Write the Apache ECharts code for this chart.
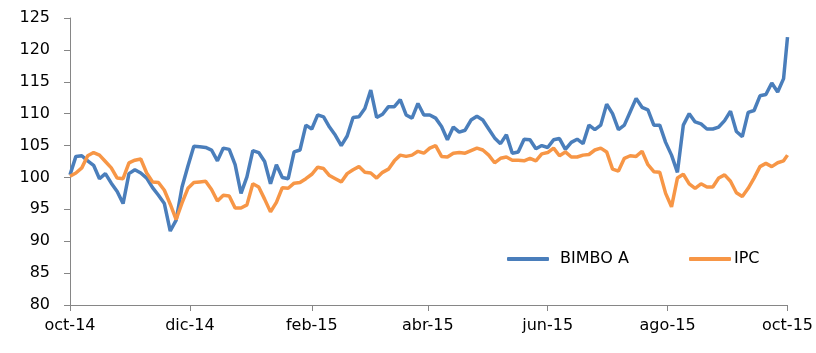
<!DOCTYPE html>
<html>
<head>
<meta charset="utf-8">
<script src="https://cdn.jsdelivr.net/npm/echarts@6/dist/echarts.min.js"></script>
<style>
  html, body { margin: 0; padding: 0; background: #fff; }
  #main { width: 816px; height: 353px; }
</style>
</head>
<body>
<div id="main"></div>
<script>
// valores cada 3 días naturales desde 1-oct-2014
var stepDays = 3;
var bimbo = [
  100.4, 103.3, 103.4, 102.6, 101.9, 99.8, 100.6, 99.1, 97.8, 95.9,
  100.6, 101.2, 100.7, 99.9, 98.4, 97.2, 95.9, 91.6, 93.3, 98.5,
  101.8, 104.9, 104.8, 104.7, 104.3, 102.6, 104.6, 104.4, 102.0, 97.5,
  100.1, 104.2, 103.9, 102.5, 99.0, 102.0, 100.0, 99.8, 104.0, 104.3,
  108.2, 107.6, 109.8, 109.5, 107.9, 106.6, 105.0, 106.5, 109.4, 109.5,
  110.8, 113.7, 109.4, 109.9, 111.1, 111.1, 112.2, 109.8, 109.3, 111.6,
  109.8, 109.8, 109.3, 108.0, 105.9, 107.9, 107.1, 107.4, 109.0, 109.6,
  109.0, 107.6, 106.2, 105.3, 106.7, 103.8, 104.0, 106.0, 105.9, 104.5,
  105.0, 104.7, 105.9, 106.1, 104.4, 105.5, 106.0, 105.3, 108.2, 107.5,
  108.2, 111.5, 110.0, 107.5, 108.2, 110.3, 112.4, 111.0, 110.6, 108.2,
  108.2, 105.5, 103.5, 100.8, 108.2, 110.0, 108.7, 108.4, 107.6, 107.6,
  107.9, 108.9, 110.4, 107.2, 106.4, 110.2, 110.5, 112.8, 113.0, 114.8,
  113.4, 115.5, 122.0
];
var ipc = [
  100.2, 100.7, 101.5, 103.4, 103.9, 103.5, 102.5, 101.5, 99.9, 99.8,
  102.3, 102.7, 102.9, 100.7, 99.3, 99.2, 98.0, 95.8, 93.4, 96.0,
  98.3, 99.2, 99.3, 99.4, 98.1, 96.3, 97.2, 97.1, 95.2, 95.2,
  95.7, 99.0, 98.5, 96.6, 94.6, 96.1, 98.4, 98.3, 99.1, 99.2,
  99.8, 100.5, 101.6, 101.4, 100.3, 99.8, 99.3, 100.6, 101.2, 101.7,
  100.8, 100.7, 99.9, 100.8, 101.3, 102.6, 103.5, 103.3, 103.5, 104.1,
  103.8, 104.6, 105.0, 103.3, 103.2, 103.8, 103.9, 103.8, 104.2, 104.6,
  104.3, 103.5, 102.3, 103.0, 103.2, 102.7, 102.7, 102.6, 103.0, 102.6,
  103.7, 103.9, 104.6, 103.4, 104.0, 103.2, 103.2, 103.5, 103.6, 104.3,
  104.6, 104.0, 101.3, 101.0, 103.0, 103.4, 103.3, 104.1, 102.0, 100.9,
  100.8, 97.5, 95.4, 99.9, 100.5, 99.0, 98.3, 99.0, 98.5, 98.5,
  99.9, 100.4, 99.4, 97.6, 97.0, 98.3, 99.9, 101.7, 102.2, 101.7,
  102.3, 102.6, 103.5
];
var yTicks = { min: 80, max: 125, interval: 5 };
var meses = ['ene', 'feb', 'mar', 'abr', 'may', 'jun', 'jul', 'ago', 'sep', 'oct', 'nov', 'dic'];
var mesesEtiqueta = [9, 11, 1, 3, 5, 7]; // oct, dic, feb, abr, jun, ago

// eje de días naturales
var dias = [];
var d0 = new Date(2014, 9, 1);
var dFin = new Date(2015, 9, 1);
for (var t = new Date(d0); t <= dFin; t.setDate(t.getDate() + 1)) {
  dias.push(new Date(t));
}
var categorias = dias.map(function (d) { return d.getTime(); });

function esEtiqueta(i) {
  var d = dias[i];
  return d.getDate() === 1 && mesesEtiqueta.indexOf(d.getMonth()) >= 0;
}

function aPares(vals) {
  return vals.map(function (v, k) {
    return [Math.min(k * stepDays, dias.length - 1), v];
  });
}

var myChart = echarts.init(document.getElementById('main'));
var fuente = 'DejaVu Sans';

myChart.setOption({
  backgroundColor: '#fff',
  animation: false,
  grid: { left: 70, right: 28, top: 18, bottom: 48 },
  legend: [{
    data: ['BIMBO A'],
    left: 502, top: 246,
    icon: 'roundRect', itemWidth: 42, itemHeight: 4,
    textStyle: { fontFamily: fuente, fontSize: 16, color: '#000', padding: [0, 0, 0, 6] }
  }, {
    data: ['IPC'],
    left: 684, top: 246,
    icon: 'roundRect', itemWidth: 42, itemHeight: 4,
    itemGap: 0,
    textStyle: { fontFamily: fuente, fontSize: 16, color: '#000', padding: [0, 0, 0, -2] }
  }],
  xAxis: {
    type: 'category',
    data: categorias,
    boundaryGap: false,
    axisLine: { lineStyle: { color: '#868686', width: 1 } },
    axisTick: { interval: esEtiqueta, length: 6, lineStyle: { color: '#868686' } },
    axisLabel: {
      interval: esEtiqueta,
      margin: 13,
      fontFamily: fuente, fontSize: 16, color: '#000',
      formatter: function (v) {
        var d = new Date(Number(v));
        return meses[d.getMonth()] + '-' + String(d.getFullYear()).slice(2);
      }
    },
    splitLine: { show: false }
  },
  yAxis: {
    type: 'value',
    min: yTicks.min, max: yTicks.max, interval: yTicks.interval,
    axisLine: { show: true, lineStyle: { color: '#868686', width: 1 } },
    axisTick: { show: true, length: 6, lineStyle: { color: '#868686' } },
    axisLabel: { margin: 20, fontFamily: fuente, fontSize: 16, color: '#000' },
    splitLine: { show: false }
  },
  series: [{
    name: 'BIMBO A',
    type: 'line',
    data: aPares(bimbo),
    showSymbol: false,
    color: '#4a7ebb',
    lineStyle: { width: 3.5, color: '#4a7ebb' },
    z: 2
  }, {
    name: 'IPC',
    type: 'line',
    data: aPares(ipc),
    showSymbol: false,
    color: '#f79646',
    lineStyle: { width: 3.5, color: '#f79646' },
    z: 3
  }]
});
</script>
</body>
</html>
